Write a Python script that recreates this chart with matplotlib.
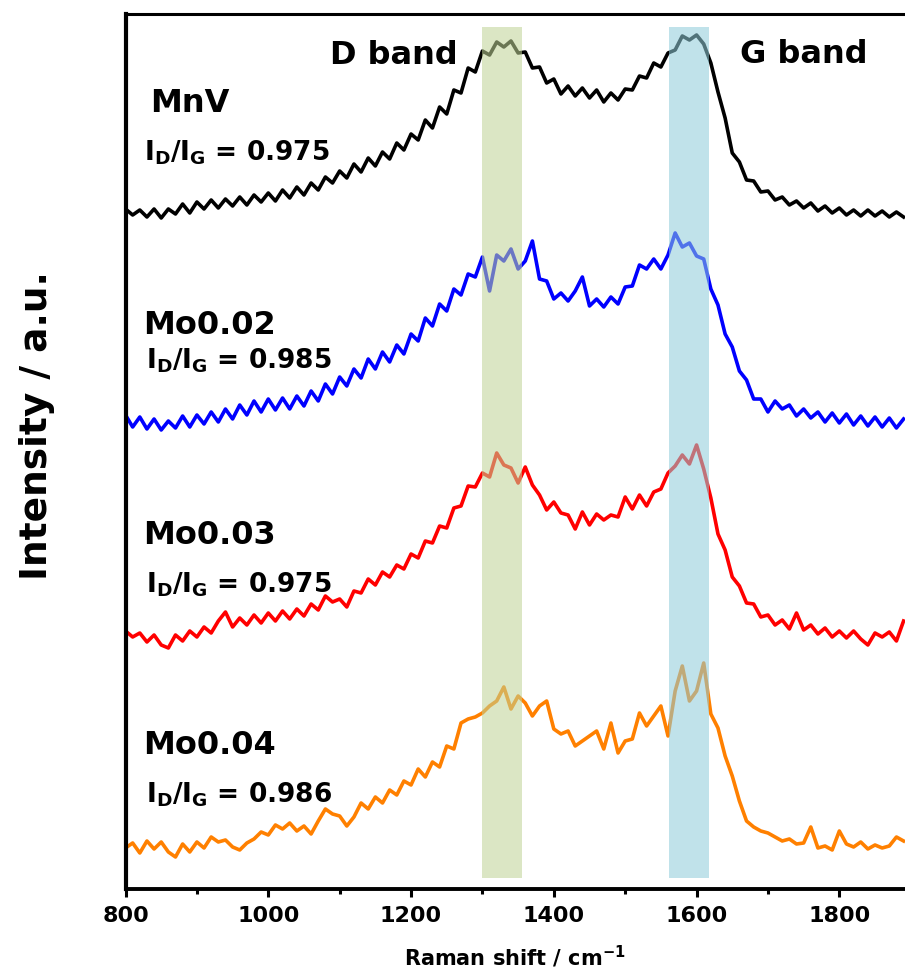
import numpy as np
import matplotlib
matplotlib.use('Agg')
import matplotlib.pyplot as plt
from matplotlib.ticker import MultipleLocator

# raman shift grid (cm^-1), one reading every 10 cm^-1
shift = np.arange(800, 1900, 10)

# stacked intensities (a.u.)
mnv = [680, 674, 679, 672, 680, 671, 680, 675, 685, 676,
       687, 680, 689, 681, 690, 683, 692, 684, 694, 687,
       696, 688, 699, 691, 702, 694, 706, 699, 712, 706,
       718, 711, 725, 717, 731, 723, 737, 730, 746, 739,
       755, 749, 769, 761, 782, 775, 799, 796, 821, 817,
       838, 834, 847, 842, 848, 836, 837, 821, 822, 806,
       810, 795, 803, 793, 801, 791, 799, 787, 796, 789,
       800, 799, 813, 811, 826, 822, 836, 839, 853, 849,
       854, 845, 826, 797, 771, 736, 727, 709, 708, 697,
       698, 689, 692, 684, 688, 681, 686, 678, 683, 676,
       681, 674, 679, 673, 679, 673, 678, 672, 677, 672]
mo002 = [474, 462, 472, 460, 470, 459, 468, 461, 473, 462,
         474, 465, 477, 467, 480, 470, 484, 474, 488, 477,
         490, 479, 491, 480, 493, 483, 498, 488, 505, 495,
         512, 503, 520, 511, 530, 520, 537, 527, 544, 535,
         555, 548, 571, 563, 585, 578, 600, 594, 615, 612,
         632, 598, 634, 628, 640, 620, 628, 648, 610, 608,
         590, 596, 588, 598, 612, 583, 590, 582, 592, 585,
         602, 603, 624, 620, 630, 620, 634, 656, 642, 646,
         633, 630, 600, 584, 555, 542, 518, 509, 490, 490,
         477, 488, 480, 484, 473, 480, 471, 477, 467, 476,
         466, 475, 464, 473, 463, 472, 462, 471, 461, 470]
mo003 = [258, 252, 256, 247, 254, 244, 241, 254, 248, 258,
         252, 262, 256, 268, 277, 262, 271, 264, 274, 266,
         276, 268, 278, 270, 280, 273, 285, 279, 293, 287,
         290, 282, 298, 296, 310, 304, 317, 312, 324, 320,
         335, 331, 348, 346, 363, 361, 381, 383, 403, 402,
         416, 412, 436, 424, 421, 406, 422, 404, 394, 379,
         387, 376, 374, 360, 377, 364, 375, 369, 374, 372,
         392, 380, 394, 383, 397, 400, 416, 423, 434, 425,
         444, 420, 391, 355, 339, 312, 303, 286, 285, 272,
         274, 264, 269, 260, 276, 259, 264, 255, 261, 252,
         258, 251, 258, 250, 244, 256, 252, 257, 248, 268]
mo004 = [41, 46, 36, 48, 40, 47, 37, 32, 45, 37,
         47, 41, 52, 47, 49, 42, 39, 46, 50, 57,
         54, 64, 60, 66, 58, 63, 55, 68, 80, 75,
         73, 63, 72, 86, 80, 92, 86, 99, 94, 108,
         104, 120, 112, 127, 122, 143, 140, 166, 170, 172,
         176, 183, 188, 202, 180, 193, 186, 173, 183, 188,
         160, 155, 158, 143, 148, 153, 158, 140, 166, 136,
         148, 150, 176, 163, 173, 183, 153, 198, 223, 188,
         198, 226, 175, 161, 133, 113, 88, 68, 62, 58,
         56, 52, 48, 50, 45, 46, 62, 41, 43, 39,
         58, 45, 42, 47, 40, 44, 41, 43, 52, 48]

samples = ['MnV', 'Mo0.02', 'Mo0.03', 'Mo0.04']
ratios = ['0.975', '0.985', '0.975', '0.986']
d_band = (1300, 1355)
g_band = (1562, 1617)

plt.rcParams['font.family'] = ['DejaVu Sans']
plt.rcParams['font.weight'] = 'bold'
plt.rcParams['mathtext.default'] = 'bf'


def plot_spectra():
    fig = plt.figure(figsize=(9.05, 9.72), dpi=100)
    ax = fig.add_axes([0.1387, 0.0854, 0.8613, 0.9002])

    colors = ['#000000', '#0000ff', '#ff0000', '#ff8000']
    for spec, c in zip([mnv, mo002, mo003, mo004], colors):
        ax.plot(shift, spec, color=c, lw=2.6, zorder=2)

    # shaded band regions drawn over the spectra
    ax.axvspan(*d_band, ymin=0.012, ymax=0.985, color='#bfd396',
               alpha=0.56, lw=0, zorder=3)
    ax.axvspan(*g_band, ymin=0.012, ymax=0.985, color='#8fccda',
               alpha=0.56, lw=0, zorder=3)

    ax.text(1087, 825, 'D band', fontsize=23, fontweight='bold')
    ax.text(1661, 826, 'G band', fontsize=23, fontweight='bold')

    # sample names and I_D/I_G ratios
    name_pos = [(835, 777), (824, 555), (824, 345), (824, 135)]
    ratio_pos = [(826, 728), (828, 520), (828, 296), (828, 86)]
    for name, r, (nx, ny), (rx, ry) in zip(samples, ratios, name_pos, ratio_pos):
        ax.text(nx, ny, name, fontsize=23, fontweight='bold')
        ax.text(rx, ry, r'I$_\mathbf{D}$/I$_\mathbf{G}$ = ' + r,
                fontsize=19, fontweight='bold')

    ax.set_xlim(800, 1892)
    ax.set_ylim(0, 875)
    ax.xaxis.set_major_locator(MultipleLocator(200))
    ax.xaxis.set_minor_locator(MultipleLocator(100))
    ax.set_yticks([])
    ax.tick_params(axis='x', which='major', direction='out', length=6,
                   width=2.2, labelsize=16, pad=6)
    ax.tick_params(axis='x', which='minor', direction='out', length=3.5,
                   width=2.2)
    for lbl in ax.get_xticklabels():
        lbl.set_fontweight('bold')

    ax.spines['right'].set_visible(False)
    ax.spines['left'].set_linewidth(3.0)
    ax.spines['bottom'].set_linewidth(2.8)
    ax.spines['top'].set_linewidth(2.2)

    ax.set_xlabel(r'Raman shift / cm$^{\mathbf{-1}}$', fontsize=15,
                  fontweight='bold', va='top')
    ax.xaxis.set_label_coords(0.5, -0.063)
    ax.set_ylabel('Intensity / a.u.', fontsize=27, fontweight='bold')
    ax.yaxis.set_label_coords(-0.09, 0.53)

    fig.savefig('out.png', dpi=100)


if __name__ == '__main__':
    plot_spectra()
